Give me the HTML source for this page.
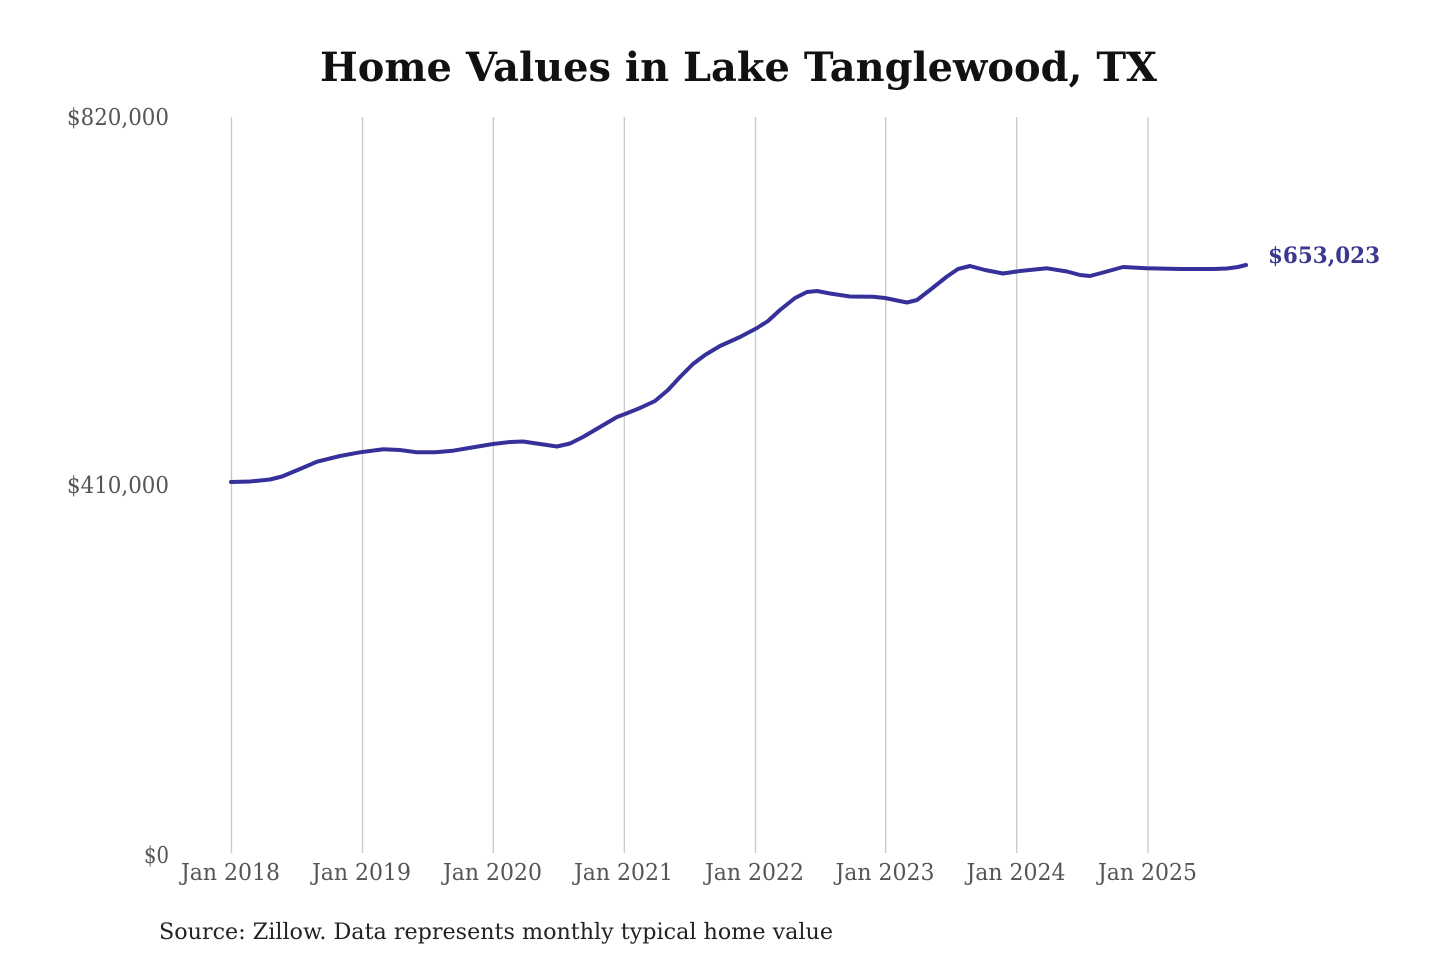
<!DOCTYPE html>
<html>
<head>
<meta charset="utf-8">
<style>
html,body{margin:0;padding:0;background:#fff;}
svg{display:block;}
text{font-family:"DejaVu Serif","Liberation Serif",serif;}
</style>
</head>
<body>
<svg width="1440" height="960" viewBox="0 0 1440 960" xmlns="http://www.w3.org/2000/svg">
<rect width="1440" height="960" fill="#fff"/>
<text x="320" y="81" font-size="40" font-weight="bold" fill="#111" textLength="837" lengthAdjust="spacingAndGlyphs">Home Values in Lake Tanglewood, TX</text>
<g stroke="#c8c8c8" stroke-width="1.3">
<line x1="231.5" y1="117" x2="231.5" y2="853"/>
<line x1="362.5" y1="117" x2="362.5" y2="853"/>
<line x1="493.3" y1="117" x2="493.3" y2="853"/>
<line x1="624.3" y1="117" x2="624.3" y2="853"/>
<line x1="755.5" y1="117" x2="755.5" y2="853"/>
<line x1="885.7" y1="117" x2="885.7" y2="853"/>
<line x1="1016.7" y1="117" x2="1016.7" y2="853"/>
<line x1="1148" y1="117" x2="1148" y2="853"/>
</g>
<g font-size="23" fill="#555">
<text x="67" y="125" textLength="102" lengthAdjust="spacingAndGlyphs">$820,000</text>
<text x="67" y="493" textLength="102" lengthAdjust="spacingAndGlyphs">$410,000</text>
<text x="144" y="863" textLength="25" lengthAdjust="spacingAndGlyphs">$0</text>
</g>
<g font-size="23" fill="#555">
<text x="181" y="880" textLength="99" lengthAdjust="spacingAndGlyphs">Jan 2018</text>
<text x="312" y="880" textLength="99" lengthAdjust="spacingAndGlyphs">Jan 2019</text>
<text x="443" y="880" textLength="99" lengthAdjust="spacingAndGlyphs">Jan 2020</text>
<text x="574" y="880" textLength="99" lengthAdjust="spacingAndGlyphs">Jan 2021</text>
<text x="705" y="880" textLength="99" lengthAdjust="spacingAndGlyphs">Jan 2022</text>
<text x="835.5" y="880" textLength="99" lengthAdjust="spacingAndGlyphs">Jan 2023</text>
<text x="966.5" y="880" textLength="99" lengthAdjust="spacingAndGlyphs">Jan 2024</text>
<text x="1098" y="880" textLength="99" lengthAdjust="spacingAndGlyphs">Jan 2025</text>
</g>
<polyline fill="none" stroke="#36319a" stroke-width="4" stroke-linejoin="round" stroke-linecap="round"
points="231,482 250,481.5 270,479.5 282,476.5 300,469 317,461.7 340,456 360,452.3 383,449.3 400,450 417,452.3 435,452.3 453,450.7 475,447 493,444 510,442 523,441.5 540,444 557,446.5 570,443.5 583,437 600,427 617,417 625,414 640,408 655,401 668,390 680,377 693,364 705,355 720,346 740,337 757,328 768,321 780,310 795,298 807,292 817,291 830,293.5 850,296.5 873,296.7 885,298 897,300.5 907,302.5 917,300 930,290 947,276.5 958,269 970,266 985,270 1003,273.5 1020,271 1047,268.3 1067,271.5 1080,275 1090,276 1105,272 1123,267 1147,268.3 1180,269 1213,269 1227,268.5 1238,267 1246,265"/>
<text x="1268" y="263" font-size="22" font-weight="bold" fill="#3a3890" textLength="112" lengthAdjust="spacingAndGlyphs">$653,023</text>
<text x="159" y="939" font-size="22" fill="#222" textLength="674" lengthAdjust="spacingAndGlyphs">Source: Zillow. Data represents monthly typical home value</text>
</svg>
</body>
</html>
